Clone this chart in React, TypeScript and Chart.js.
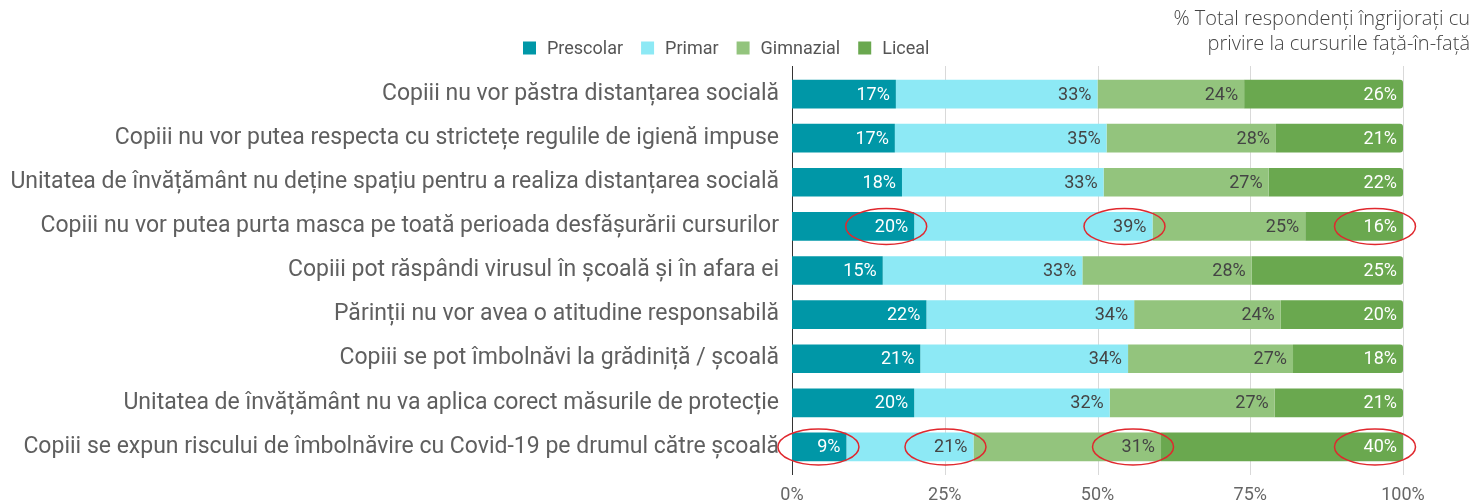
import { useEffect, useRef } from "react";
import { Chart, registerables } from "chart.js";

Chart.register(...registerables);

const categories = [
  "Copiii nu vor păstra distanțarea socială",
  "Copiii nu vor putea respecta cu strictețe regulile de igienă impuse",
  "Unitatea de învățământ nu deține spațiu pentru a realiza distanțarea socială",
  "Copiii nu vor putea purta masca pe toată perioada desfășurării cursurilor",
  "Copiii pot răspândi virusul în școală și în afara ei",
  "Părinții nu vor avea o atitudine responsabilă",
  "Copiii se pot îmbolnăvi la grădiniță / școală",
  "Unitatea de învățământ nu va aplica corect măsurile de protecție",
  "Copiii se expun riscului de îmbolnăvire cu Covid-19 pe drumul către școală",
];

const seriesNames = ["Prescolar", "Primar", "Gimnazial", "Liceal"];
const prescolar = [17, 17, 18, 20, 15, 22, 21, 20, 9];
const primar = [33, 35, 33, 39, 33, 34, 34, 32, 21];
const gimnazial = [24, 28, 27, 25, 28, 24, 27, 27, 31];
const liceal = [26, 21, 22, 16, 25, 20, 18, 21, 40];
const xTicks = [0, 25, 50, 75, 100];
const titleLines = [
  "% Total respondenți îngrijorați cu",
  "privire la cursurile față-în-față",
];
// [row index, series index] of the circled labels
const highlighted: [number, number][] = [
  [3, 0], [3, 1], [3, 3],
  [8, 0], [8, 1], [8, 2], [8, 3],
];

const colors = ["#0097a7", "#8de9f5", "#93c47d", "#6aa84f"];
const labelColors = ["#ffffff", "#444444", "#444444", "#ffffff"];

const overlay = {
  id: "overlay",
  beforeDatasetsDraw(chart: any) {
    const { ctx, chartArea } = chart;
    const x = chart.scales.x;
    ctx.save();
    xTicks.forEach((t) => {
      const px = Math.round(x.getPixelForValue(t)) + 0.5;
      ctx.strokeStyle = t === 0 ? "#333333" : "#d9d9d9";
      ctx.lineWidth = 1;
      ctx.beginPath();
      ctx.moveTo(px, chartArea.top - 6);
      ctx.lineTo(px, chartArea.bottom + 6);
      ctx.stroke();
    });
    ctx.restore();
  },
  afterDatasetsDraw(chart: any) {
    const { ctx, chartArea } = chart;
    const raw = [prescolar, primar, gimnazial, liceal];
    chart.data.datasets.forEach((_ds: any, di: number) => {
      const meta = chart.getDatasetMeta(di);
      meta.data.forEach((el: any, i: number) => {
        const end = Math.min(el.x, chartArea.right);
        ctx.save();
        ctx.font = "18px Roboto";
        ctx.fillStyle = labelColors[di];
        ctx.textBaseline = "middle";
        ctx.textAlign = "right";
        ctx.fillText(`${raw[di][i]}%`, end - 6, el.y + 1);
        ctx.restore();
      });
    });
    ctx.save();
    ctx.strokeStyle = "#e0282e";
    ctx.lineWidth = 1.5;
    highlighted.forEach(([row, di]) => {
      const el = chart.getDatasetMeta(di).data[row];
      const end = Math.min(el.x, chartArea.right);
      ctx.beginPath();
      ctx.ellipse(end - 28, el.y, 40.5, 18, 0, 0, Math.PI * 2);
      ctx.stroke();
    });
    ctx.restore();
  },
  afterDraw(chart: any) {
    const { ctx, chartArea } = chart;
    const x = chart.scales.x;
    ctx.save();
    // x tick labels
    ctx.font = "18px Roboto";
    ctx.fillStyle = "#666666";
    ctx.textAlign = "center";
    ctx.textBaseline = "middle";
    xTicks.forEach((t) => {
      const px = x.getPixelForValue(t);
      ctx.fillText(`${t}%`, px, chartArea.bottom + 26);
    });
    // legend
    let lx = 523;
    const ly = 48;
    ctx.font = "18px Roboto";
    ctx.textBaseline = "middle";
    ctx.textAlign = "left";
    seriesNames.forEach((name, i) => {
      ctx.fillStyle = colors[i];
      ctx.fillRect(lx, ly - 6.5, 13, 13);
      ctx.fillStyle = "#555555";
      ctx.fillText(name, lx + 24, ly + 1);
      lx += 24 + ctx.measureText(name).width + 18;
    });
    // title
    ctx.font = '300 20px "Open Sans"';
    ctx.fillStyle = "#444444";
    ctx.textAlign = "right";
    ctx.fillText(titleLines[0], 1470, 19);
    ctx.fillText(titleLines[1], 1470, 44);
    ctx.restore();
  },
};

export default function App() {
  const ref = useRef<HTMLCanvasElement | null>(null);
  useEffect(() => {
    document.body.style.margin = "0";
    const canvas = ref.current;
    if (!canvas) return;
    const raw = [prescolar, primar, gimnazial, liceal];
    // 100% stacked: each row's segments are shares of the row total
    const totals = categories.map((_, i) => raw.reduce((s, arr) => s + arr[i], 0));
    const chart = new Chart(canvas, {
      type: "bar",
      data: {
        labels: categories,
        datasets: seriesNames.map((name, i) => ({
          label: name,
          data: raw[i].map((v, r) => (v / totals[r]) * 100),
          backgroundColor: colors[i],
          borderWidth: 0,
          borderRadius: i === 3 ? 3 : 0,
          barPercentage: 0.65,
          categoryPercentage: 1,
        })),
      },
      options: {
        indexAxis: "y",
        responsive: false,
        animation: false,
        layout: { padding: { top: 72, right: 73, left: 0, bottom: 0 } },
        plugins: {
          legend: { display: false },
          tooltip: { enabled: false },
        },
        scales: {
          x: {
            stacked: true,
            min: 0,
            max: 100,
            ticks: { stepSize: 25, display: false },
            grid: { display: false },
            border: { display: false },
            afterFit: (s: any) => {
              s.height = 34;
            },
          },
          y: {
            stacked: true,
            grid: { display: false, drawTicks: false },
            border: { display: false },
            ticks: {
              font: { family: "Roboto", size: 23 },
              color: "#5f5f5f",
              padding: 13,
            },
            afterFit: (s: any) => {
              s.width = 792;
            },
          },
        },
      } as any,
      plugins: [overlay],
    });
    return () => chart.destroy();
  }, []);
  return (
    <div style={{ width: 1476, height: 503 }}>
      <canvas ref={ref} width={1476} height={503} style={{ display: "block" }} />
    </div>
  );
}
